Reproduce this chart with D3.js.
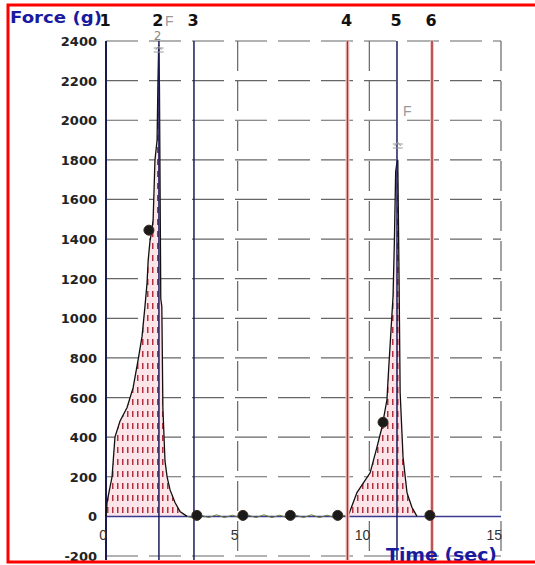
<!DOCTYPE html>
<html>
<head>
<meta charset="utf-8">
<script src="https://cdn.jsdelivr.net/npm/d3@7"></script>
<style>
  html, body { margin: 0; padding: 0; background: #fff; }
  svg { display: block; }
</style>
</head>
<body>
<div id="chart"></div>
<script>
// force trace, first push (sec / grams)
const peak1Time  = [0, 0.04, 0.08, 0.23, 0.34, 0.53, 0.8, 1.03, 1.22, 1.37, 1.48, 1.56, 1.6, 1.67, 1.75, 1.79, 1.86, 1.94, 1.97, 2.0, 2.03, 2.08, 2.12, 2.16, 2.24, 2.32, 2.43, 2.62, 2.81, 3.08];
const peak1Force = [0, 70, 100, 200, 400, 480, 550, 650, 790, 910, 1060, 1180, 1290, 1390, 1450, 1500, 1800, 1900, 2170, 2380, 2170, 1100, 1060, 550, 280, 200, 135, 70, 25, 0];

// resting noise between pushes
const restTime  = [3.08, 3.3, 3.6, 3.9, 4.2, 4.5, 4.8, 5.1, 5.4, 5.7, 6.0, 6.3, 6.6, 6.9, 7.2, 7.5, 7.8, 8.1, 8.4, 8.7, 9.0, 9.19];
const restForce = [0, -8, 6, -6, 8, -6, 6, -8, 6, -6, 8, -6, 6, -8, 6, -6, 8, -6, 6, -8, 6, 0];

// second push
const peak2Time  = [9.19, 9.53, 10.03, 10.29, 10.48, 10.67, 10.71, 10.8, 10.9, 10.95, 11.0, 11.05, 11.08, 11.13, 11.17, 11.28, 11.43, 11.62, 11.81];
const peak2Force = [0, 120, 220, 350, 450, 590, 690, 890, 1110, 1380, 1740, 1790, 1800, 1190, 625, 300, 120, 45, 0];

// numbered cursors along the top
const markerTimes  = [0, 2.01, 3.34, 9.17, 11.05, 12.38];
const markerLabels = ["1", "2", "3", "4", "5", "6"];
const markerKinds  = ["blue", "blue", "blue", "red", "blue", "red"];

// black dots on the trace
const dotTimes  = [1.63, 3.45, 5.2, 7.0, 8.8, 10.52, 12.3];
const dotForces = [1445, 0, 0, 0, 0, 475, 0];

const yTicks = [-200, 0, 200, 400, 600, 800, 1000, 1200, 1400, 1600, 1800, 2000, 2200, 2400];
const xTicks = [0, 5, 10, 15];

const W = 535, H = 565;
const x = d3.scaleLinear().domain([0, 15]).range([106, 501]);
const y = d3.scaleLinear().domain([-200, 2400]).range([556, 41]);

const svg = d3.select("#chart").append("svg")
    .attr("width", W).attr("height", H);

const defs = svg.append("defs");
const pat = defs.append("pattern")
    .attr("id", "hatch")
    .attr("patternUnits", "userSpaceOnUse")
    .attr("width", 5).attr("height", 12);
pat.append("rect").attr("width", 5).attr("height", 12).attr("fill", "#fde4e8");
pat.append("rect").attr("x", 2).attr("y", 3).attr("width", 1.5).attr("height", 6).attr("fill", "#b03040");

// grid
const grid = svg.append("g");
yTicks.filter(d => d !== 0).forEach(d => {
    grid.append("line")
        .attr("x1", x(0)).attr("x2", x(15))
        .attr("y1", y(d)).attr("y2", y(d))
        .attr("stroke", "#666").attr("stroke-width", 1.2)
        .attr("stroke-dasharray", "32,11");
});
xTicks.filter(d => d !== 0).forEach(d => {
    grid.append("line")
        .attr("x1", x(d)).attr("x2", x(d))
        .attr("y1", y(2400)).attr("y2", 560)
        .attr("stroke", "#666").attr("stroke-width", 1.2)
        .attr("stroke-dasharray", "30,10");
});

// filled areas under both pushes
const area = d3.area()
    .x(d => x(d[0]))
    .y0(y(0))
    .y1(d => y(d[1]));
const line = d3.line()
    .x(d => x(d[0]))
    .y(d => y(d[1]));

const p1 = d3.zip(peak1Time, peak1Force);
const p2 = d3.zip(peak2Time, peak2Force);
const rest = d3.zip(restTime, restForce);

svg.append("path").datum(p1).attr("d", area).attr("fill", "url(#hatch)");
svg.append("path").datum(p2).attr("d", area).attr("fill", "url(#hatch)");

// axes
svg.append("line")
    .attr("x1", x(0)).attr("x2", x(15))
    .attr("y1", y(0)).attr("y2", y(0))
    .attr("stroke", "#3a3a90").attr("stroke-width", 1.5);
svg.append("line")
    .attr("x1", x(0)).attr("x2", x(0))
    .attr("y1", y(2400)).attr("y2", 560)
    .attr("stroke", "#1a1a50").attr("stroke-width", 2);

// trace
svg.append("path").datum(rest).attr("d", line)
    .attr("fill", "none").attr("stroke", "#6a7a3a").attr("stroke-width", 1);
svg.append("path").datum(p1).attr("d", line)
    .attr("fill", "none").attr("stroke", "#111").attr("stroke-width", 1.3);
svg.append("path").datum(p2).attr("d", line)
    .attr("fill", "none").attr("stroke", "#111").attr("stroke-width", 1.3);

// cursor lines
markerTimes.forEach((t, i) => {
    if (markerKinds[i] === "red") {
        svg.append("line")
            .attr("x1", x(t)).attr("x2", x(t))
            .attr("y1", y(2400)).attr("y2", 560)
            .attr("stroke", "#f6c8c8").attr("stroke-width", 4);
        svg.append("line")
            .attr("x1", x(t)).attr("x2", x(t))
            .attr("y1", y(2400)).attr("y2", 560)
            .attr("stroke", "#a83030").attr("stroke-width", 1.5);
    } else if (t > 0) {
        svg.append("line")
            .attr("x1", x(t)).attr("x2", x(t))
            .attr("y1", y(2400)).attr("y2", 560)
            .attr("stroke", "#1c1c5c").attr("stroke-width", 1.5);
    }
});

// titles
svg.append("text").attr("x", 10).attr("y", 23)
    .attr("font-family", "DejaVu Sans, sans-serif")
    .attr("font-weight", "bold").attr("font-size", 16)
    .attr("textLength", 92).attr("lengthAdjust", "spacingAndGlyphs")
    .attr("fill", "#1a1aa0").text("Force (g)");
svg.append("text").attr("x", 386).attr("y", 561)
    .attr("font-family", "DejaVu Sans, sans-serif")
    .attr("font-weight", "bold").attr("font-size", 17)
    .attr("textLength", 111).attr("lengthAdjust", "spacingAndGlyphs")
    .attr("fill", "#1a1aa0").text("Time (sec)");

markerTimes.forEach((t, i) => {
    svg.append("text")
        .attr("x", x(t) - 1).attr("y", 26)
        .attr("text-anchor", "middle")
        .attr("font-family", "DejaVu Sans, sans-serif")
        .attr("font-weight", "bold")
        .attr("font-size", 16)
        .attr("fill", "#111")
        .text(markerLabels[i]);
});

// peak flags
const flag = (t, yy) => {
    const cx = x(t);
    svg.append("path")
        .attr("d", `M${cx - 5},${yy} H${cx + 5} M${cx - 5},${yy + 4} H${cx + 5} M${cx - 3},${yy + 2} L${cx},${yy - 2} L${cx + 3},${yy + 2}`)
        .attr("fill", "none").attr("stroke", "#999").attr("stroke-width", 1);
};
flag(peak1Time[19], 48);
flag(peak2Time[12], 144);
svg.append("text").attr("x", x(2.0) - 1).attr("y", 40)
    .attr("text-anchor", "middle")
    .attr("font-family", "DejaVu Sans, sans-serif")
    .attr("font-size", 12).attr("fill", "#888").text("2");
svg.append("text").attr("x", 165).attr("y", 26)
    .attr("font-family", "Liberation Sans, sans-serif")
    .attr("font-size", 14).attr("fill", "#999").text("F");
svg.append("text").attr("x", x(11.05) + 6).attr("y", 116)
    .attr("font-family", "Liberation Sans, sans-serif")
    .attr("font-size", 14).attr("fill", "#999").text("F");

// dots
svg.selectAll("circle.dot")
    .data(d3.zip(dotTimes, dotForces))
    .enter().append("circle")
    .attr("class", "dot")
    .attr("cx", d => x(d[0]))
    .attr("cy", d => y(d[1]) - (d[1] === 0 ? 1 : 0))
    .attr("r", 5)
    .attr("fill", "#1a1a1a")
    .attr("stroke", "#3a2a20").attr("stroke-width", 1);

// tick labels
svg.selectAll("text.ytick")
    .data(yTicks)
    .enter().append("text")
    .attr("class", "ytick")
    .attr("x", 97).attr("y", d => y(d) + 5)
    .attr("text-anchor", "end")
    .attr("font-family", "DejaVu Sans, sans-serif")
    .attr("font-size", 13)
    .attr("font-weight", "bold")
    .attr("fill", "#222")
    .text(d => d);

svg.selectAll("text.xtick")
    .data(xTicks)
    .enter().append("text")
    .attr("class", "xtick")
    .attr("x", d => x(d) + 1).attr("y", 540)
    .attr("text-anchor", "end")
    .attr("font-family", "Liberation Sans, sans-serif")
    .attr("font-size", 14)
    .attr("fill", "#333")
    .text(d => d);

// red frame
svg.append("path")
    .attr("d", `M${W + 2},5 H8 V562 H${W + 2}`)
    .attr("fill", "none").attr("stroke", "#ff0000").attr("stroke-width", 3);
</script>
</body>
</html>
